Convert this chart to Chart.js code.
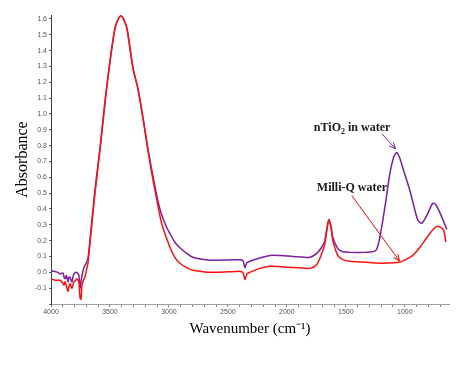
<!DOCTYPE html>
<html>
<head>
<meta charset="utf-8">
<script src="https://cdn.jsdelivr.net/npm/chart.js@4.4.1/dist/chart.umd.min.js"></script>
<style>
  html, body { margin: 0; padding: 0; background: #fff; }
  #wrap { width: 470px; height: 366px; position: relative; }
</style>
</head>
<body>
<div id="wrap"><canvas id="ftir"></canvas></div>
<script>
// nTiO2 in water (purple)
const tio2Wavenumber = [4000, 3966, 3940, 3924, 3898, 3890, 3881, 3870, 3856, 3848, 3839, 3830, 3822, 3814, 3805, 3790, 3780, 3770, 3763, 3754, 3746, 3737, 3725, 3712, 3700, 3686, 3670, 3627, 3585, 3542, 3500, 3458, 3430, 3407, 3385, 3356, 3305, 3263, 3220, 3178, 3144, 3093, 3060, 3017, 2991, 2950, 2907, 2850, 2797, 2720, 2653, 2500, 2398, 2373, 2356, 2339, 2314, 2230, 2144, 2050, 1949, 1870, 1805, 1746, 1703, 1678, 1660, 1644, 1625, 1610, 1568, 1525, 1466, 1400, 1339, 1246, 1212, 1169, 1127, 1093, 1068, 1042, 1017, 958, 890, 856, 813, 763, 740, 704, 670, 644];
const tio2Absorbance = [0.01, 0.005, 0.0, -0.01, -0.005, -0.03, -0.04, -0.02, -0.06, -0.03, -0.03, -0.05, -0.06, -0.03, -0.01, 0.0, 0.0, -0.01, -0.02, -0.10, -0.06, -0.02, 0.02, 0.045, 0.06, 0.09, 0.2, 0.52, 0.78, 1.08, 1.33, 1.54, 1.60, 1.62, 1.60, 1.54, 1.29, 1.16, 0.975, 0.78, 0.64, 0.45, 0.36, 0.28, 0.245, 0.19, 0.155, 0.12, 0.095, 0.082, 0.077, 0.078, 0.08, 0.075, 0.03, 0.06, 0.07, 0.09, 0.107, 0.106, 0.10, 0.097, 0.095, 0.12, 0.16, 0.2, 0.28, 0.333, 0.29, 0.22, 0.15, 0.13, 0.126, 0.125, 0.126, 0.138, 0.22, 0.41, 0.62, 0.73, 0.757, 0.72, 0.66, 0.52, 0.33, 0.31, 0.36, 0.436, 0.43, 0.38, 0.32, 0.27];

// Milli-Q water (red)
const milliQWavenumber = [4000, 3966, 3940, 3924, 3898, 3890, 3881, 3864, 3856, 3848, 3839, 3830, 3822, 3814, 3805, 3790, 3780, 3770, 3763, 3754, 3746, 3737, 3725, 3712, 3695, 3686, 3670, 3627, 3585, 3542, 3500, 3458, 3430, 3407, 3385, 3356, 3305, 3263, 3220, 3178, 3144, 3119, 3062, 2992, 2950, 2907, 2850, 2797, 2720, 2653, 2500, 2398, 2373, 2356, 2339, 2314, 2230, 2144, 2050, 1949, 1870, 1805, 1746, 1703, 1678, 1660, 1644, 1625, 1610, 1568, 1525, 1466, 1300, 1186, 1042, 980, 932, 870, 813, 760, 729, 700, 670, 652];
const milliQAbsorbance = [-0.04, -0.05, -0.05, -0.05, -0.07, -0.08, -0.06, -0.10, -0.12, -0.09, -0.07, -0.09, -0.10, -0.08, -0.06, -0.05, -0.04, -0.05, -0.06, -0.16, -0.17, -0.08, -0.05, -0.03, 0.03, 0.06, 0.18, 0.50, 0.77, 1.07, 1.33, 1.54, 1.60, 1.62, 1.60, 1.54, 1.29, 1.16, 0.975, 0.77, 0.62, 0.52, 0.31, 0.16, 0.095, 0.057, 0.03, 0.013, 0.005, 0.0, 0.003, 0.006, 0.0, -0.045, -0.01, 0.0, 0.025, 0.038, 0.035, 0.03, 0.027, 0.025, 0.05, 0.12, 0.18, 0.27, 0.33, 0.28, 0.2, 0.107, 0.08, 0.07, 0.062, 0.058, 0.065, 0.085, 0.107, 0.16, 0.22, 0.27, 0.29, 0.285, 0.265, 0.19];

const xMin = 625, xMax = 4000;
const yMin = -0.2, yMax = 1.625;

function toPoints(xs, ys) {
  return xs.map((x, i) => ({ x: x, y: ys[i] }));
}

// labels with arrows, anchored in data units
const notes = [
  { text: ["nTiO", "2", " in water"], tx: 1771, ty: 0.91, ax: 1195, ay: 0.875, bx: 1078, by: 0.78, color: "#7a2a9e" },
  { text: ["Milli-Q water"], tx: 1746, ty: 0.535, ax: 1449, ay: 0.484, bx: 1045, by: 0.072, color: "#ff0000" }
];

const notePlugin = {
  id: "notes",
  afterDatasetsDraw(chart) {
    const ctx = chart.ctx;
    const xs = chart.scales.x, ys = chart.scales.y;
    ctx.save();
    notes.forEach(n => {
      const tx = xs.getPixelForValue(n.tx), ty = ys.getPixelForValue(n.ty);
      ctx.fillStyle = "#1a1a1a";
      ctx.textBaseline = "middle";
      let cx = tx;
      n.text.forEach((part, i) => {
        const sub = n.text.length > 1 && i === 1;
        ctx.font = sub ? "bold 8px 'Liberation Serif'" : "bold 12px 'Liberation Serif'";
        ctx.fillText(part, cx, sub ? ty + 4 : ty);
        cx += ctx.measureText(part).width;
      });
      const x1 = xs.getPixelForValue(n.ax), y1 = ys.getPixelForValue(n.ay);
      const x2 = xs.getPixelForValue(n.bx), y2 = ys.getPixelForValue(n.by);
      ctx.strokeStyle = n.color;
      ctx.lineWidth = 1;
      ctx.beginPath();
      ctx.moveTo(x1, y1);
      ctx.lineTo(x2, y2);
      ctx.stroke();
      const a = Math.atan2(y2 - y1, x2 - x1), h = 7;
      ctx.beginPath();
      ctx.moveTo(x2 - h * Math.cos(a - 0.4), y2 - h * Math.sin(a - 0.4));
      ctx.lineTo(x2, y2);
      ctx.lineTo(x2 - h * Math.cos(a + 0.4), y2 - h * Math.sin(a + 0.4));
      ctx.stroke();
    });
    ctx.restore();
  }
};

new Chart(document.getElementById("ftir"), {
  type: "line",
  data: {
    datasets: [
      { label: "Milli-Q water", data: toPoints(milliQWavenumber, milliQAbsorbance), borderColor: "#ff1010", borderWidth: 1.5, pointRadius: 0, tension: 0.25, fill: false },
      { label: "nTiO2 in water", data: toPoints(tio2Wavenumber, tio2Absorbance), borderColor: "#7d1f9a", borderWidth: 1.5, pointRadius: 0, tension: 0.25, fill: false }
    ]
  },
  options: {
    responsive: true,
    maintainAspectRatio: false,
    animation: false,
    layout: { padding: { top: 15, right: 21, left: 0, bottom: 24 } },
    plugins: { legend: { display: false }, tooltip: { enabled: false } },
    scales: {
      x: {
        type: "linear",
        reverse: true,
        min: xMin,
        max: xMax,
        afterFit: s => { s.height = 38; },
        border: { display: true, color: "#a0a0a0", width: 1 },
        grid: { drawOnChartArea: false, drawTicks: true, tickLength: 3, color: "#808080" },
        ticks: {
          stepSize: 100,
          includeBounds: false,
          autoSkip: false,
          maxRotation: 0,
          padding: 1,
          color: "#555",
          font: { family: "Arial, 'Liberation Sans'", size: 7 },
          callback: v => (v % 500 === 0 ? String(v) : "")
        },
        title: {
          display: true,
          text: "Wavenumber (cm⁻¹)",
          color: "#000",
          font: { family: "'Liberation Serif'", size: 15 },
          padding: { top: 4, bottom: 4 }
        }
      },
      y: {
        min: yMin,
        max: yMax,
        afterFit: s => { s.width = 51; },
        border: { display: true, color: "#404040", width: 1, dash: [1, 1] },
        grid: { drawOnChartArea: false, drawTicks: true, tickLength: 2, color: "#606060" },
        ticks: {
          stepSize: 0.1,
          includeBounds: false,
          autoSkip: false,
          padding: 2,
          color: "#555",
          font: { family: "Arial, 'Liberation Sans'", size: 7 },
          callback: v => {
            const r = Math.round(v * 10) / 10;
            if (Math.abs(r - v) > 1e-6 || r < -0.15) return "";
            return r.toFixed(1);
          }
        },
        title: {
          display: true,
          text: "Absorbance",
          color: "#000",
          font: { family: "'Liberation Serif'", size: 16 },
          padding: { top: 13, bottom: 0 }
        }
      }
    }
  },
  plugins: [notePlugin]
});
</script>
</body>
</html>
